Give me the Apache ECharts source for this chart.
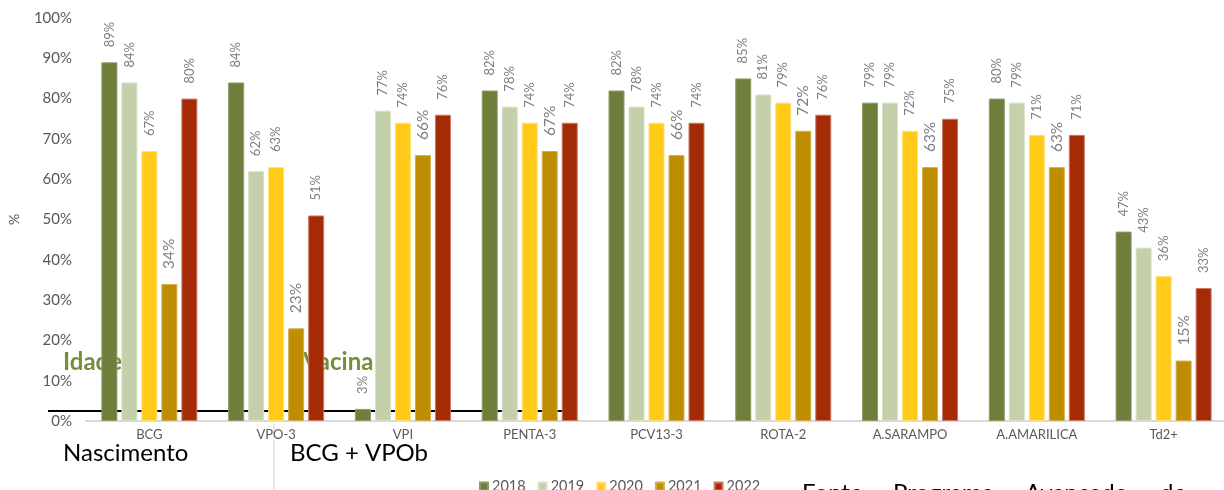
<!DOCTYPE html>
<html>
<head>
<meta charset="utf-8">
<script src="https://cdn.jsdelivr.net/npm/echarts@6/dist/echarts.min.js"></script>
<style>
  html, body { margin: 0; padding: 0; background: #ffffff; }
  #chart { width: 1224px; height: 490px; }
</style>
</head>
<body>
<div id="chart"></div>
<script>
// Cobertura vacinal por vacina, 2018–2022
const categories = ['BCG', 'VPO-3', 'VPI', 'PENTA-3', 'PCV13-3', 'ROTA-2', 'A.SARAMPO', 'A.AMARILICA', 'Td2+'];
const years = ['2018', '2019', '2020', '2021', '2022'];
const cov2018 = [89, 84, 3, 82, 82, 85, 79, 80, 47];
const cov2019 = [84, 62, 77, 78, 78, 81, 79, 79, 43];
const cov2020 = [67, 63, 74, 74, 74, 79, 72, 71, 36];
const cov2021 = [34, 23, 66, 67, 66, 72, 63, 63, 15];
const cov2022 = [80, 51, 76, 74, 74, 76, 75, 71, 33];
const yTicks = [0, 10, 20, 30, 40, 50, 60, 70, 80, 90, 100];

const seriesValues = [cov2018, cov2019, cov2020, cov2021, cov2022];
const colors = ['#6e7f3b', '#c4d0a9', '#ffca18', '#be8e00', '#a52a06'];
const borders = ['#8e9b66', '#d8e0c6', '#ffe07a', '#d4b04d', '#cc7a66'];

const FONT = 'Lato, "Noto Sans", sans-serif';

const chart = echarts.init(document.getElementById('chart'), null, { renderer: 'canvas' });

const series = years.map((y, i) => ({
  name: y,
  type: 'bar',
  data: seriesValues[i],
  barWidth: 16,
  barGap: '25%',
  z: 2,
  itemStyle: { color: colors[i], borderColor: borders[i], borderWidth: 1 },
  label: {
    show: true,
    position: 'top',
    distance: 15,
    rotate: 90,
    align: 'left',
    verticalAlign: 'middle',
    color: '#7f7f7f',
    fontFamily: FONT,
    fontSize: i === 3 ? 15.5 : 13,
    formatter: p => p.value + '%'
  }
}));

chart.setOption({
  animation: false,
  backgroundColor: '#ffffff',
  color: colors,
  grid: { left: 86, top: 18, width: 1141, height: 403, containLabel: false, outerBoundsMode: 'none' },
  legend: {
    data: years,
    left: 474,
    top: 474,
    itemWidth: 8,
    itemHeight: 8,
    itemGap: 12,
    icon: 'rect',
    textStyle: { color: '#595959', fontSize: 14.5, fontFamily: FONT, padding: [0, 0, 0, -1] }
  },
  xAxis: {
    type: 'category',
    data: categories,
    axisLine: { show: true, lineStyle: { color: '#d9d9d9', width: 2 } },
    axisTick: { show: false },
    axisLabel: { color: '#595959', fontSize: 13, fontFamily: FONT, margin: 7 },
    splitLine: { show: false }
  },
  yAxis: {
    type: 'value',
    min: yTicks[0],
    max: yTicks[yTicks.length - 1],
    interval: 10,
    name: '%',
    nameLocation: 'middle',
    nameRotate: 90,
    nameGap: 65,
    nameTextStyle: { color: '#595959', fontSize: 14, fontFamily: FONT },
    axisLine: { show: false },
    axisTick: { show: false },
    splitLine: { show: false },
    axisLabel: { color: '#595959', fontSize: 15, fontFamily: FONT, margin: 14, formatter: v => v + '%' }
  },
  graphic: [
    // reference line near the base of the first groups (behind the bars)
    { type: 'line', z: 0, shape: { x1: 48, y1: 411, x2: 575, y2: 411 }, style: { stroke: '#000000', lineWidth: 2 } },
    { type: 'text', z: 0, left: 63, top: 350, style: { text: 'Idade', fill: '#72903a', font: 'bold 24px ' + FONT } },
    { type: 'text', z: 0, left: 303, top: 350, style: { text: 'Vacina', fill: '#72903a', font: 'bold 24px ' + FONT } },
    { type: 'text', z: 10, left: 63, top: 441, style: { text: 'Nascimento', fill: '#000000', font: '24px ' + FONT } },
    { type: 'text', z: 10, left: 290, top: 441, style: { text: 'BCG + VPOb', fill: '#000000', font: '24px ' + FONT } },
    { type: 'line', z: 0, shape: { x1: 274, y1: 423, x2: 274, y2: 490 }, style: { stroke: '#e3e3e3', lineWidth: 1.5 } },
    { type: 'text', z: 10, left: 802, top: 481, style: { text: 'Fonte', fill: '#000000', font: '24px ' + FONT } },
    { type: 'text', z: 10, left: 893, top: 481, style: { text: 'Programa', fill: '#000000', font: '24px ' + FONT } },
    { type: 'text', z: 10, left: 1025, top: 481, style: { text: 'Avançado', fill: '#000000', font: '24px ' + FONT } },
    { type: 'text', z: 10, left: 1160, top: 481, style: { text: 'de', fill: '#000000', font: '24px ' + FONT } }
  ],
  series: series
});
</script>
</body>
</html>
